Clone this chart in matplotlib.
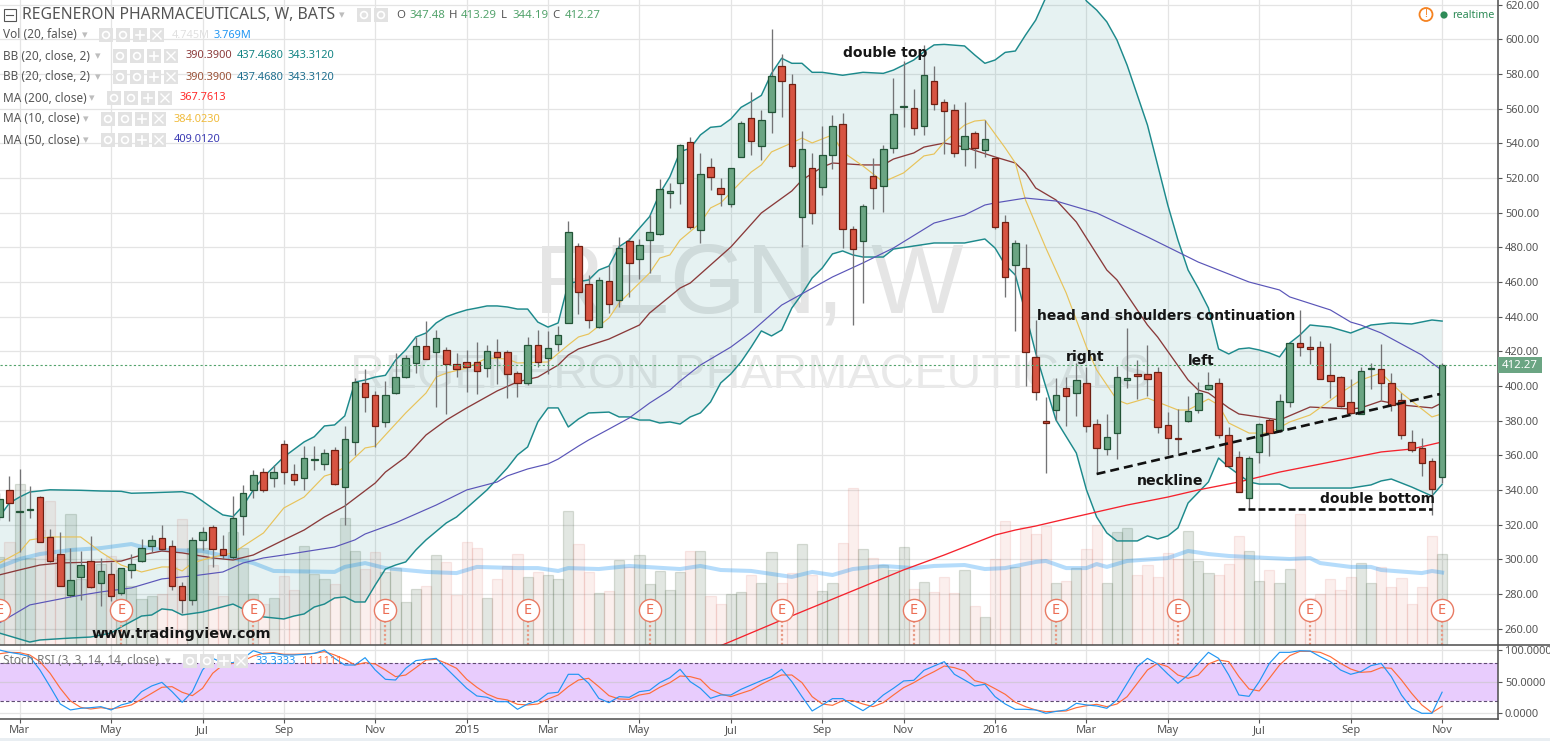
import numpy as np
import matplotlib
matplotlib.use("Agg")
import matplotlib.pyplot as plt
from matplotlib.patches import Rectangle, Circle
from matplotlib.lines import Line2D
from matplotlib.transforms import Affine2D

W, H = 1550, 741

# weekly candles, one entry per bar
opens = [324.3, 339.9, 327.4, 328.4, 335.9, 313.2, 303.0, 279.6, 290.1, 299.0,
         286.3, 291.5, 280.5, 294.2, 299.4, 308.0, 312.2, 307.6, 284.6, 276.9,
         311.5, 318.6, 305.9, 301.7, 325.3, 339.9, 350.3, 347.2, 366.4, 349.1,
         346.8, 357.5, 354.9, 363.0, 341.6, 367.6, 401.6, 394.7, 379.1, 395.8,
         405.1, 413.5, 422.9, 419.4, 420.6, 412.5, 413.7, 413.7, 410.2, 419.4,
         419.4, 407.3, 401.6, 423.5, 416.0, 424.0, 436.2, 480.6, 458.6, 433.9,
         460.4, 449.4, 483.4, 473.1, 484.0, 487.5, 511.1, 516.9, 540.5, 489.8,
         526.1, 514.0, 504.8, 531.9, 554.4, 538.2, 557.8, 584.3, 574.0, 497.3,
         525.5, 514.6, 533.0, 550.9, 490.4, 483.4, 520.9, 515.2, 537.1, 561.0,
         560.1, 549.7, 575.7, 563.6, 559.0, 536.5, 545.7, 535.9, 531.3, 494.4,
         469.6, 467.9, 416.6, 380.1, 386.0, 398.7, 395.8, 401.6, 377.9, 363.5,
         372.8, 403.3, 406.8, 406.8, 407.9, 377.4, 369.9, 379.7, 386.0, 398.1,
         401.6, 371.6, 358.9, 335.3, 361.8, 380.3, 374.5, 390.6, 424.6, 422.3,
         422.3, 406.2, 405.0, 390.6, 383.7, 409.7, 409.7, 401.6, 391.8, 367.6,
         364.1, 356.6, 347.48]
closes = [334.7, 332.4, 328.0, 329.0, 310.3, 299.4, 284.9, 288.0, 296.7, 284.0,
          293.2, 279.2, 295.0, 297.3, 306.5, 311.1, 305.9, 284.9, 276.9, 311.1,
          315.7, 305.9, 302.8, 323.8, 338.2, 348.6, 340.3, 350.3, 350.3, 345.7,
          358.4, 358.0, 361.2, 343.4, 369.3, 402.2, 393.5, 377.2, 394.7, 405.1,
          416.0, 422.9, 415.8, 427.5, 412.9, 409.7, 410.8, 408.5, 420.0, 416.6,
          406.8, 402.0, 423.5, 413.7, 421.8, 429.2, 488.6, 454.0, 437.9, 461.0,
          447.1, 479.4, 470.8, 481.1, 488.6, 513.4, 512.3, 538.8, 491.9, 522.1,
          520.3, 510.5, 525.5, 551.5, 541.1, 553.2, 578.6, 575.7, 526.7, 536.5,
          499.6, 533.0, 549.7, 490.4, 478.8, 503.6, 514.0, 536.5, 556.7, 561.6,
          548.6, 579.2, 562.4, 558.4, 534.2, 544.0, 537.1, 542.3, 491.5, 462.7,
          482.3, 419.4, 396.4, 378.5, 394.7, 394.1, 403.3, 376.8, 364.1, 370.4,
          405.0, 404.5, 406.0, 403.9, 376.2, 369.9, 369.3, 385.4, 395.8, 400.4,
          371.6, 353.7, 339.1, 358.3, 377.9, 373.1, 391.2, 424.6, 422.3, 421.2,
          403.9, 402.7, 388.3, 384.3, 408.5, 410.2, 401.6, 389.3, 371.6, 363.0,
          355.5, 340.9, 412.27]
highs = [338.2, 348.2, 352.2, 342.4, 336.6, 317.6, 315.9, 306.5, 304.9, 313.6,
         300.7, 298.8, 295.0, 303.0, 311.9, 314.2, 319.9, 311.3, 286.9, 312.8,
         319.0, 319.9, 314.2, 336.6, 343.0, 351.6, 352.8, 354.5, 368.9, 355.1,
         365.5, 365.5, 363.7, 364.7, 377.0, 404.5, 409.9, 397.4, 403.1, 418.9,
         417.9, 428.1, 437.5, 432.3, 422.3, 418.9, 420.8, 425.4, 423.5, 427.1,
         420.8, 408.7, 428.3, 432.3, 431.7, 434.6, 495.2, 482.3, 463.8, 463.1,
         469.6, 485.7, 485.2, 484.8, 498.6, 519.4, 516.9, 539.6, 543.4, 534.2,
         531.3, 519.8, 525.5, 552.6, 569.4, 559.2, 605.7, 591.5, 579.9, 546.9,
         534.2, 550.0, 556.3, 557.2, 492.3, 505.0, 531.3, 538.8, 577.4, 587.6,
         571.1, 596.6, 584.5, 565.3, 562.4, 563.8, 546.9, 553.4, 531.7, 498.4,
         484.2, 481.9, 438.1, 393.9, 404.5, 405.4, 413.1, 410.8, 380.8, 383.9,
         411.6, 433.3, 415.0, 423.7, 410.8, 385.2, 386.6, 394.3, 402.2, 407.9,
         404.5, 376.2, 362.6, 359.7, 378.5, 381.4, 395.2, 424.6, 443.9, 428.9,
         426.0, 424.6, 405.8, 404.1, 410.8, 413.1, 424.3, 407.4, 395.8, 374.7,
         369.9, 358.3, 413.29]
lows = [322.8, 322.4, 304.5, 324.2, 309.9, 298.8, 284.9, 278.6, 276.7, 283.4,
        273.2, 276.3, 279.6, 289.6, 298.8, 304.2, 305.5, 282.4, 269.4, 273.8,
        305.5, 295.9, 300.1, 300.1, 314.2, 335.3, 339.1, 342.0, 343.6, 343.2,
        340.1, 351.6, 351.6, 343.0, 319.9, 360.3, 385.3, 365.1, 376.6, 395.2,
        404.5, 407.3, 415.4, 388.1, 383.9, 405.4, 396.6, 395.4, 405.4, 401.2,
        393.3, 393.9, 400.8, 411.2, 407.0, 420.2, 436.2, 441.6, 433.7, 433.7,
        441.9, 445.4, 451.5, 461.9, 465.0, 487.1, 502.8, 505.0, 490.7, 482.7,
        513.0, 504.0, 503.4, 531.9, 533.2, 530.3, 546.1, 555.3, 525.5, 480.4,
        493.4, 510.4, 525.0, 479.8, 435.4, 448.1, 502.1, 500.6, 534.6, 549.6,
        545.0, 545.0, 559.2, 533.8, 532.3, 527.1, 525.9, 531.9, 490.7, 451.5,
        432.0, 400.0, 392.0, 350.1, 380.4, 377.0, 382.7, 373.7, 349.3, 360.3,
        357.8, 399.1, 392.7, 394.3, 373.1, 360.3, 361.6, 379.1, 384.3, 397.7,
        369.9, 353.5, 338.7, 328.9, 355.8, 359.9, 373.7, 387.7, 417.3, 412.7,
        403.9, 393.0, 387.7, 383.9, 383.7, 398.5, 392.0, 385.8, 369.3, 361.8,
        348.3, 325.5, 344.19]
volume = [4.58, 5.36, 8.37, 4.52, 5.98, 7.49, 4.58, 6.81, 3.43, 3.90,
          4.21, 4.63, 3.90, 3.07, 2.39, 2.55, 2.65, 4.06, 6.55, 5.04,
          5.04, 4.16, 2.55, 5.88, 5.04, 2.65, 2.13, 2.44, 3.59, 2.86,
          5.15, 3.69, 3.43, 3.17, 6.60, 4.89, 3.95, 4.84, 3.80, 4.00,
          2.24, 2.91, 3.07, 4.68, 4.32, 2.60, 5.36, 5.04, 2.44, 3.43,
          4.11, 4.73, 3.54, 3.80, 3.64, 3.43, 6.97, 5.25, 3.80, 2.70,
          2.81, 4.42, 4.06, 4.68, 3.17, 3.85, 2.86, 3.80, 4.89, 4.89,
          2.55, 2.13, 2.65, 2.76, 3.64, 3.22, 4.84, 3.22, 3.74, 5.25,
          3.64, 2.81, 3.22, 5.30, 8.16, 4.99, 4.52, 4.16, 3.90, 5.10,
          2.91, 3.28, 2.76, 3.54, 2.70, 3.90, 2.03, 1.46, 4.47, 6.45,
          4.06, 6.14, 5.77, 6.19, 3.22, 3.33, 4.00, 4.99, 6.24, 3.22,
          5.88, 6.08, 3.64, 4.16, 3.54, 4.78, 4.47, 5.93, 4.37, 3.74,
          3.64, 4.21, 5.67, 4.89, 3.33, 3.90, 3.22, 3.95, 6.81, 2.44,
          2.65, 3.43, 2.86, 3.54, 4.26, 3.22, 4.06, 3.02, 3.48, 2.13,
          3.02, 5.67, 4.745]

# overlays, read at the bars where the line bends
upper_x = [0, 1, 2, 3, 5, 8, 10, 12, 13, 15, 18, 19, 21, 22, 23, 24, 25, 26, 28, 30, 31, 32, 33, 34, 35, 36, 37, 38, 39, 40,
           41, 42, 43, 44, 45, 46, 47, 48, 49, 50, 51, 52, 53, 54, 55, 56, 57, 58, 59, 60, 61, 62, 63, 64, 65, 66, 67, 68, 69, 70,
           71, 72, 73, 74, 75, 76, 77, 78, 79, 80, 81, 83, 85, 87, 88, 90, 91, 92, 93, 95, 96, 97, 98, 99, 100, 101, 102, 103, 104, 105,
           106, 107, 108, 109, 110, 111, 112, 113, 114, 115, 116, 117, 118, 119, 120, 121, 122, 123, 124, 125, 126, 127, 128, 129, 131, 133, 135, 137, 139, 141, 142]
upper_y = [324.5, 332.6, 336.0, 338.9, 340.2, 339.9, 339.5, 339.3, 338.2, 338.5, 339.1, 337.8, 329.5, 325.7, 324.7, 331.0, 340.1, 347.6, 359.1, 367.8, 370.8, 377.0, 377.6, 382.8, 402.3, 403.5, 405.2, 406.2, 415.0, 420.8,
           428.3, 430.6, 436.4, 440.0, 442.1, 443.9, 445.0, 446.2, 446.2, 445.6, 444.4, 444.4, 436.9, 434.0, 436.4, 459.3, 460.2, 461.2, 466.9, 469.2, 480.4, 484.2, 491.0, 497.7, 511.1, 520.7, 535.2, 537.1, 544.8, 549.2,
           549.8, 554.0, 560.7, 564.0, 567.6, 580.3, 589.0, 586.1, 586.1, 580.9, 580.9, 579.2, 580.9, 580.3, 582.2, 588.0, 592.8, 596.7, 597.0, 596.1, 590.9, 586.1, 588.0, 592.4, 593.2, 602.4, 611.0, 624.0, 632.0, 638.0,
           632.0, 622.0, 616.8, 610.0, 599.5, 585.0, 567.8, 550.5, 527.5, 504.4, 484.2, 466.9, 456.5, 445.0, 421.4, 418.5, 421.4, 422.0, 420.8, 419.1, 416.8, 424.8, 429.4, 435.2, 434.0, 430.6, 435.2, 436.4, 435.8, 438.1, 437.47]
lower_x = [0, 3, 4, 7, 9, 11, 12, 14, 15, 16, 17, 18, 20, 23, 24, 26, 28, 29, 30, 31, 32, 33, 34, 35, 36, 37, 38, 39, 40, 41,
           42, 44, 45, 46, 48, 50, 51, 52, 53, 54, 55, 56, 57, 58, 60, 61, 62, 63, 64, 65, 66, 67, 68, 69, 70, 71, 72, 73, 74, 75,
           76, 77, 78, 79, 80, 81, 82, 83, 84, 85, 87, 88, 92, 95, 97, 98, 99, 100, 101, 102, 103, 104, 106, 107, 108, 109, 110, 112, 113, 114,
           115, 116, 117, 119, 120, 121, 123, 124, 126, 127, 131, 133, 135, 136, 137, 139, 141, 142]
lower_y = [257.6, 252.4, 253.6, 254.7, 255.3, 257.6, 261.1, 267.4, 268.0, 271.5, 270.9, 268.0, 269.7, 274.3, 271.5, 266.9, 265.7, 267.4, 268.6, 272.6, 274.3, 277.8, 278.4, 275.5, 275.5, 285.3, 294.5, 296.8, 298.6, 305.5,
           311.3, 321.1, 324.5, 329.7, 340.1, 352.8, 360.3, 364.9, 379.3, 387.4, 387.4, 376.4, 381.0, 384.5, 385.0, 382.2, 382.2, 380.4, 380.4, 378.7, 379.3, 378.1, 382.2, 384.5, 390.8, 401.8, 407.0, 413.9, 422.5, 431.8,
           428.9, 432.3, 445.0, 453.1, 462.3, 468.1, 476.2, 477.9, 475.6, 474.4, 474.4, 479.0, 482.5, 482.5, 484.8, 479.6, 469.8, 464.0, 442.1, 419.1, 399.5, 380.4, 361.4, 340.1, 324.5, 315.3, 310.7, 310.7, 313.6, 311.8,
           313.6, 318.2, 332.6, 344.7, 358.5, 353.3, 344.7, 343.5, 343.5, 341.2, 341.2, 341.2, 343.0, 345.3, 346.4, 341.8, 336.6, 343.31]
basis_x = [0, 2, 4, 6, 10, 12, 14, 16, 18, 21, 23, 25, 28, 30, 32, 34, 37, 38, 40, 42, 44, 46, 49, 51, 53, 55, 56, 57, 60, 63,
           64, 67, 68, 70, 72, 75, 78, 79, 81, 82, 85, 87, 88, 90, 91, 93, 95, 98, 100, 101, 102, 104, 106, 109, 110, 113, 114, 117, 118, 119,
           121, 122, 124, 126, 129, 133, 134, 136, 138, 141, 142]
basis_y = [291.1, 294.0, 296.8, 298.0, 298.6, 299.1, 302.6, 304.9, 303.8, 300.9, 299.7, 302.6, 311.3, 317.0, 324.5, 330.8, 344.1, 350.4, 359.1, 371.8, 380.4, 387.4, 397.2, 402.4, 405.2, 412.1, 417.9, 421.4, 427.1, 435.2,
           442.1, 456.5, 459.4, 469.8, 480.2, 499.8, 512.5, 518.8, 526.3, 528.6, 527.5, 527.5, 530.9, 534.4, 537.8, 540.1, 537.8, 532.1, 528.6, 522.9, 514.2, 507.3, 494.6, 466.9, 461.2, 435.2, 428.3, 403.5, 397.7, 396.0,
           387.4, 383.9, 382.2, 380.4, 387.9, 386.8, 387.4, 391.4, 389.1, 387.4, 390.39]
ma10_x = [0, 2, 3, 5, 8, 10, 12, 14, 16, 17, 18, 19, 21, 23, 26, 28, 30, 32, 33, 34, 36, 37, 38, 40, 42, 43, 44, 46, 48, 50,
          51, 54, 56, 57, 58, 60, 61, 64, 65, 66, 67, 69, 70, 71, 73, 74, 75, 76, 78, 79, 80, 82, 83, 85, 87, 89, 91, 92, 93, 95,
          96, 97, 99, 100, 101, 103, 105, 107, 108, 110, 111, 113, 116, 117, 119, 120, 121, 123, 125, 127, 129, 132, 134, 136, 138, 141, 142]
ma10_y = [298.0, 304.3, 311.3, 313.0, 313.0, 304.3, 296.8, 292.8, 295.7, 295.7, 293.4, 298.0, 301.4, 303.8, 315.3, 329.7, 336.0, 348.1, 349.9, 353.3, 364.3, 365.4, 371.8, 384.5, 396.0, 405.2, 407.5, 410.4, 416.2, 415.6,
          413.3, 413.9, 423.7, 428.3, 430.0, 439.2, 447.9, 465.2, 473.8, 475.6, 484.2, 494.0, 502.7, 505.6, 517.7, 523.4, 527.5, 535.0, 540.2, 543.0, 540.2, 544.8, 535.0, 526.9, 517.7, 522.9, 532.7, 533.8, 540.7, 550.5,
          552.8, 553.4, 537.3, 528.6, 507.3, 479.6, 453.7, 422.5, 409.3, 392.0, 389.7, 393.1, 386.2, 386.2, 392.5, 389.1, 378.7, 372.9, 372.9, 379.3, 383.3, 396.0, 403.5, 407.5, 396.0, 382.2, 384.02]
ma50_x = [0, 3, 7, 10, 13, 16, 19, 22, 24, 26, 28, 33, 35, 36, 39, 43, 46, 49, 50, 52, 54, 55, 57, 58, 60, 62, 64, 66, 67, 69,
          72, 74, 77, 82, 85, 88, 92, 95, 97, 98, 101, 104, 108, 113, 118, 123, 126, 127, 131, 133, 134, 136, 140, 141, 142]
ma50_y = [263.4, 273.8, 278.4, 281.3, 283.6, 288.8, 290.5, 292.8, 298.0, 300.9, 302.6, 307.2, 311.3, 314.7, 321.1, 331.4, 340.1, 344.7, 348.2, 352.2, 355.1, 357.9, 365.4, 368.9, 375.2, 381.6, 390.2, 397.7, 402.9, 412.1,
          422.5, 431.2, 446.7, 462.9, 471.0, 479.6, 494.0, 498.6, 504.4, 505.6, 508.4, 506.7, 499.8, 486.0, 471.5, 460.0, 455.4, 451.4, 443.9, 436.9, 435.2, 430.6, 417.9, 413.3, 409.01]
ma200_x = [71, 77, 89, 93, 98, 100, 102, 105, 108, 111, 115, 118, 122, 126, 133, 136, 139, 142]
ma200_y = [250.3, 265.1, 294.0, 302.6, 314.1, 317.0, 319.3, 323.4, 327.4, 331.4, 336.0, 340.1, 344.7, 350.4, 358.5, 362.0, 363.7, 367.76]
volma_x = [0, 2, 4, 7, 10, 13, 14, 16, 20, 23, 25, 27, 33, 34, 36, 38, 42, 45, 47, 51, 53, 55, 56, 59, 62, 67, 69, 71, 74, 78,
           80, 82, 84, 87, 90, 92, 95, 97, 99, 102, 103, 105, 107, 108, 109, 111, 115, 117, 119, 121, 125, 127, 129, 130, 133, 135, 136, 140, 141, 142]
volma_y = [4.06, 4.47, 4.73, 4.94, 5.04, 5.25, 5.10, 4.94, 4.89, 4.52, 4.26, 3.85, 3.80, 4.06, 4.26, 4.00, 3.80, 3.74, 4.06, 4.00, 4.00, 3.85, 4.00, 3.95, 4.11, 3.95, 4.11, 3.90, 3.85, 3.54,
           3.80, 3.64, 3.95, 4.11, 4.00, 4.11, 4.16, 3.95, 4.00, 4.32, 4.37, 4.00, 4.00, 4.21, 4.06, 4.37, 4.52, 4.89, 4.73, 4.63, 4.52, 4.47, 4.52, 4.26, 4.06, 4.06, 3.90, 3.74, 3.85, 3.769]

# stochastic RSI, one value per bar
stoch_k = [100, 96.3, 93.7, 89.5, 68.4, 42.1, 14.7, 5.3, 7.9, 8.9,
           10.5, 5.3, 13.2, 17.4, 34.2, 43.2, 48.9, 34.2, 17.4, 34.2,
           68.4, 86.8, 80, 80, 86.8, 98.9, 93.7, 94.7, 92.1, 92.1,
           93.2, 94.7, 100, 86.8, 76.3, 76.3, 87.9, 68.4, 53.7, 52.6,
           71.1, 83.2, 85.3, 86.8, 71.1, 55.3, 39.5, 27.4, 25.3, 18.4,
           18.4, 6.3, 14.7, 19.5, 31.6, 33.2, 61.6, 61.6, 47.4, 23.7,
           16.8, 26.3, 25.3, 34.2, 36.3, 48.4, 56.3, 69.5, 50, 39.5,
           23.7, 28.9, 28.9, 37.9, 44.7, 51.6, 57.9, 69.5, 50, 26.3,
           3.7, 13.2, 23.2, 23.2, 13.2, 4.2, 14.7, 28.9, 39.5, 51.1,
           52.1, 67.9, 74.7, 81.6, 61.6, 52.6, 43.2, 45.8, 26.3, 14.7,
           6.3, 6.3, 5.3, 0, 3, 5.3, 15.8, 13.2, 11.6, 7.9,
           21, 47.4, 73.7, 86.8, 77.9, 62.1, 47.4, 60.5, 78.9, 96.3,
           86.8, 60.5, 28.9, 26.8, 50, 78.9, 96.3, 96.3, 98.9, 98.4,
           89.5, 81.6, 68.4, 61.6, 65.8, 75.3, 78.9, 57.9, 28.9, 7.9,
           0, 0, 33.33]
stoch_d = [94, 96.3, 95.8, 92.1, 81.6, 63.2, 39.5, 19.5, 9.5, 6.8,
           8.9, 6.8, 9.5, 13.2, 22.1, 31.6, 41.1, 42.1, 33.2, 27.9,
           39.5, 63.2, 76.3, 78.9, 82.6, 90.5, 94.7, 95.8, 93.2, 93.2,
           93.7, 94.7, 97.4, 92.1, 85.3, 76.3, 80, 77.9, 68.4, 57.9,
           60.5, 72.1, 84.2, 85.3, 78.9, 71.1, 53.7, 41.1, 30.5, 23.7,
           21.1, 14.2, 13.2, 14.7, 22.6, 28.9, 42.1, 52.6, 55.3, 42.1,
           27.9, 22.6, 22.1, 28.9, 31.6, 41.1, 48.4, 58.9, 57.9, 53.7,
           37.9, 30.5, 26.3, 31.6, 36.8, 45.8, 53.7, 60.5, 60.5, 48.4,
           26.3, 14.7, 12.6, 20, 20, 14.7, 10.5, 16.8, 28.9, 40.5,
           48.4, 57.9, 65.8, 74.7, 72.1, 66.8, 51.6, 47.4, 38.9, 30,
           17.4, 10.5, 5.3, 2.6, 3.2, 3.7, 8.9, 12, 14.2, 10.5,
           14.7, 26.3, 47.4, 68.4, 78.9, 73.7, 60.5, 55.3, 60.5, 77.9,
           84.2, 81.6, 57.9, 38.4, 35.3, 55.3, 76.3, 91, 97.9, 97.9,
           96.3, 89.5, 78.9, 70, 64.7, 65.8, 72.1, 71.1, 52.6, 31.6,
           13.2, 1, 11.11]

date_ticks = [2, 11, 20, 28, 37, 46, 54, 63, 72, 81, 89, 98, 107, 115, 124, 133, 142]
date_labels = ["Mar", "May", "Jul", "Sep", "Nov", "2015", "Mar", "May", "Jul", "Sep", "Nov", "2016", "Mar", "May", "Jul", "Sep", "Nov"]
price_ticks = list(range(260, 621, 20))
earnings = [0, 12, 25, 38, 52, 64, 77, 90, 104, 116, 129, 142]
neckline_x = [108, 141.8]
neckline_y = [349.3, 395.4]
bottom_x = [121.9, 141]
bottom_y = [329.1, 329.1]
last_price = 412.27

UP, UP_EDGE = "#6ba583", "#225437"
DOWN, DOWN_EDGE = "#d75442", "#6f1f12"
WICK = "#737375"
GRID = "#e4e4e4"
AXIS = "#4c4c4c"
LABEL = "#555555"
SANS = "Noto Sans"

plt.rcParams["font.family"] = SANS

fig = plt.figure(figsize=(W / 100, H / 100), dpi=100)
px = Affine2D().scale(1, -1).translate(0, H)  # picture pixels, y going down

ax_vol = fig.add_axes([0, 1 - 645 / H, 1498 / W, 645 / H])
ax = fig.add_axes([0, 1 - 645 / H, 1498 / W, 645 / H], sharex=ax_vol)
ax_st = fig.add_axes([0, 1 - 719 / H, 1498 / W, 74 / H], sharex=ax_vol)
ax_vol.set_zorder(1)
ax.set_zorder(2)
ax.patch.set_visible(False)

idx = np.arange(len(opens))
o, c, hi, lo = map(np.array, (opens, closes, highs, lows))
rising = c >= o

ax_vol.set_xlim(0.069, 147.5)
ax_vol.set_ylim(0, 33.54)
ax.set_ylim(250.7, 622.6)
ax_st.set_ylim(-9, 107.9)

# grid lives on the bottom axes so the watermark and bars sit over it
for t in date_ticks:
    ax_vol.axvline(t, color=GRID, lw=0.9, zorder=0)
    ax_st.axvline(t, color=GRID, lw=0.9, zorder=0)
for p in price_ticks:
    ax_vol.axhline((p - 250.7) / (622.6 - 250.7) * 33.54, color=GRID, lw=0.9, zorder=0)

ax_vol.text(534, 287, "REGN, W", transform=px, fontsize=70.5, family="Liberation Sans",
            color="#e5e5e5", va="center", ha="left", zorder=0.5)
ax_vol.text(350, 376, "REGENERON PHARMACEUTICALS", transform=px, fontsize=34.7,
            family="Liberation Sans", color="#e9e9e9", va="center", ha="left", zorder=0.5)

vol_face = [(0.30, 0.42, 0.30, 0.16) if r else (0.84, 0.33, 0.26, 0.09) for r in rising]
vol_edge = [(0.25, 0.35, 0.22, 0.18) if r else (0.80, 0.35, 0.28, 0.12) for r in rising]
ax_vol.bar(idx, volume, width=1.0, color=vol_face, edgecolor=vol_edge, lw=0.9, zorder=1)
ax_vol.plot(volma_x, volma_y, color="#2196f3", alpha=0.33, lw=2.9, zorder=2)

# Bollinger band, polygon from both edges
band_x = np.r_[upper_x, lower_x[::-1]]
band_y = np.r_[upper_y, lower_y[::-1]]
ax.fill(band_x, band_y, color="#138484", alpha=0.10, lw=0, zorder=1)
ax.plot(upper_x, upper_y, color="#1d8a8c", lw=1.05, zorder=3)
ax.plot(lower_x, lower_y, color="#1d8a8c", lw=1.05, zorder=3)
ax.plot(basis_x, basis_y, color="#8a3a3a", lw=0.95, zorder=3)
ax.plot(ma200_x, ma200_y, color="#f5222d", lw=0.95, zorder=3)
ax.plot(ma10_x, ma10_y, color="#e8c35a", lw=0.85, zorder=3)
ax.plot(ma50_x, ma50_y, color="#5a55b8", lw=0.85, zorder=3)

ax.vlines(idx, lo, hi, color=WICK, lw=0.95, zorder=4)
ax.bar(idx, np.abs(c - o), bottom=np.minimum(o, c), width=0.64,
       color=[UP if r else DOWN for r in rising],
       edgecolor=[UP_EDGE if r else DOWN_EDGE for r in rising], lw=0.9, zorder=5)

ax.axhline(last_price, color="#53a36c", lw=0.8, ls=(0, (2, 2)), zorder=6)
ax.plot(neckline_x, neckline_y, color="#111111", lw=1.9, ls=(0, (3.4, 1.9)), zorder=7)
ax.plot(bottom_x, bottom_y, color="#111111", lw=1.9, ls=(0, (2.6, 1.2)), zorder=7)

# earnings flags
ax.vlines(earnings, 250.7, 264, color="#e89a85", lw=1.6, ls=(0, (1, 1)), zorder=6)
ax.scatter(earnings, [270.9] * len(earnings), s=255, facecolor="white",
           edgecolor="#e87b64", lw=1.0, zorder=7, clip_on=True)
for e in earnings:
    ax.text(e, 270.6, "E", color="#ec6e55", fontsize=10.5, ha="center", va="center",
            zorder=8, clip_on=True)

# stochastic pane
ax_st.axhspan(20, 80, color="#e8ccfd", lw=0, zorder=0.5)
for v in (0, 50, 100):
    ax_st.axhline(v, color="#d4c8dc" if v == 50 else GRID, lw=0.9, zorder=0.6)
for v in (20, 80):
    ax_st.axhline(v, color="#5f4b72", lw=0.8, ls=(0, (3, 2)), zorder=2)
ax_st.plot(idx, stoch_d, color="#ff6d3a", lw=0.85, zorder=3)
ax_st.plot(idx, stoch_k, color="#2196f3", lw=0.85, zorder=3)

# axes furniture
for a in (ax, ax_vol, ax_st):
    for s in a.spines.values():
        s.set_visible(False)
ax_vol.tick_params(left=False, right=False, bottom=False, labelleft=False, labelbottom=False)
ax.yaxis.tick_right()
ax.set_yticks(price_ticks)
ax.set_yticklabels([f"{p:.2f}" for p in price_ticks])
ax.tick_params(axis="y", colors=LABEL, labelcolor=LABEL, labelsize=7.9, length=3, width=0.8, pad=2, right=True, left=False)
ax.tick_params(axis="x", bottom=False, labelbottom=False)
ax_st.yaxis.tick_right()
ax_st.set_yticks([0, 50, 100])
ax_st.set_yticklabels(["0.0000", "50.0000", "100.0000"])
ax_st.tick_params(axis="y", colors=LABEL, labelcolor=LABEL, labelsize=7.9, length=3, width=0.8, pad=2)
ax_st.set_xticks(date_ticks)
ax_st.set_xticklabels(date_labels)
ax_st.tick_params(axis="x", colors=LABEL, labelcolor=LABEL, labelsize=8, length=3, width=0.8, pad=1.5)
for lab in ax_st.get_xticklabels():
    if lab.get_text().startswith("20"):
        lab.set_fontweight("bold")
        lab.set_color("#444444")


def add_text(x, y, s, color=LABEL, size=8.5, ha="left", **kw):
    fig.add_artist(plt.Text(x, y, s, color=color, fontsize=size, ha=ha, va="center",
                            transform=px, zorder=10, **kw))


def add_rule(xs, ys, color=AXIS, lw=1.1):
    fig.add_artist(Line2D(xs, ys, color=color, lw=lw, transform=px, zorder=9))


def add_icons(x0, y, count=4):
    # eye, cog, plus, cross buttons beside each legend row
    for n in range(count):
        x = x0 + n * 17
        fig.add_artist(Rectangle((x, y - 7), 14, 14, color="#e2e2e2", lw=0, transform=px, zorder=9))
        cx, cy = x + 7, y
        if n < 2:
            fig.add_artist(Circle((cx, cy), 3.4, fc="none", ec="white", lw=1.2, transform=px, zorder=10))
        elif n == 2:
            add_rule([cx - 4, cx + 4], [cy, cy], "white", 1.2)
            add_rule([cx, cx], [cy - 4, cy + 4], "white", 1.2)
        else:
            add_rule([cx - 4, cx + 4], [cy - 4, cy + 4], "white", 1.0)
            add_rule([cx - 4, cx + 4], [cy + 4, cy - 4], "white", 1.0)


def add_arrow(x, y):
    add_text(x, y, "\u25be", "#bdbdbd", 8, family="DejaVu Sans")


add_rule([1498, 1498], [0, 719])
add_rule([0, W], [645, 645])
add_rule([0, 1498], [719, 719])
fig.add_artist(Rectangle((0, 738), W, 3, color="#e9eef2", lw=0, transform=px, zorder=9))

# last price tag
fig.add_artist(Rectangle((1498, 357), 44, 16, color="#6ba583", lw=0, transform=px, zorder=11))
fig.add_artist(plt.Text(1520, 365, f"{last_price:.2f}", color="white", fontsize=8.2, fontweight="bold",
                        ha="center", va="center", transform=px, zorder=12))

# header rows
fig.add_artist(Rectangle((3.5, 9), 12, 12, fc="none", ec="#555555", lw=0.8, transform=px, zorder=10))
add_rule([6, 13], [15, 15], "#555555", 0.8)
add_text(22, 15, "REGENERON PHARMACEUTICALS, W, BATS", "#555555", 11.35)
add_arrow(339, 15)
add_icons(357, 15, 2)
ohlc_green = "#53a36c"
for x, s, col in [(396, "O", LABEL), (409, "347.48", ohlc_green), (449, "H", LABEL), (461, "413.29", ohlc_green),
                  (501, "L", LABEL), (512, "344.19", ohlc_green), (552, "C", LABEL), (565, "412.27", ohlc_green)]:
    add_text(x, 15, s, col, 8.2)

add_text(3, 35, "Vol (20, false)")
add_arrow(82, 35)
add_icons(99, 35)
add_text(172, 35, "4.745M", "#e0e0e0", 7.9)
add_text(214, 35, "3.769M", "#2196f3", 7.9)

for y, cols in [(56, ("#8b3a3a", "#138484", "#138484")), (77, ("#9a5238", "#1f6f8f", "#1f6f8f"))]:
    add_text(3, y, "BB (20, close, 2)")
    add_arrow(95, y)
    add_icons(113, y)
    add_text(186, y, "390.3900", cols[0], 7.9)
    add_text(237, y, "437.4680", cols[1], 7.9)
    add_text(288, y, "343.3120", cols[2], 7.9)

for y, name, ax0, ic, vx, val, col in [(98, "MA (200, close)", 89, 107, 180, "367.7613", "#ff2a2a"),
                                       (119, "MA (10, close)", 83, 101, 174, "384.0230", "#f0bb3c"),
                                       (140, "MA (50, close)", 83, 101, 174, "409.0120", "#3c3cb4")]:
    add_text(3, y, name)
    add_arrow(ax0, y)
    add_icons(ic, y)
    add_text(vx, y, val, col, 7.9)

# stochastic legend
add_text(3, 661, "Stoch RSI (3, 3, 14, 14, close)", "#777777", 8.5)
add_arrow(165, 661)
add_icons(183, 661)
add_text(256, 661, "33.3333", "#2196f3", 7.9)
add_text(302, 661, "11.1111", "#ff6d3a", 7.9)

# realtime badge
fig.add_artist(Circle((1426, 14.5), 6.5, fc="white", ec="#f58220", lw=1.3, transform=px, zorder=10))
add_text(1426, 14.5, "!", "#f58220", 8, ha="center", fontweight="bold")
fig.add_artist(Circle((1444, 15), 3.6, color="#2e8b57", lw=0, transform=px, zorder=10))
add_text(1452, 15, "realtime", "#2e8b57", 7.8)

# hand drawn notes
NOTE = "#151515"
for x, y, s, size in [(843, 53, "double top", 10), (1037, 316, "head and shoulders continuation", 10),
                      (1066, 357, "right", 10.2), (1188, 361, "left", 10), (1137, 481, "neckline", 10.2),
                      (1320, 499, "double bottom", 10), (91, 634, "www.tradingview.com", 10.4)]:
    add_text(x, y, s, NOTE, size, family="DejaVu Sans", fontweight="bold")

fig.savefig("out.png", dpi=100)
